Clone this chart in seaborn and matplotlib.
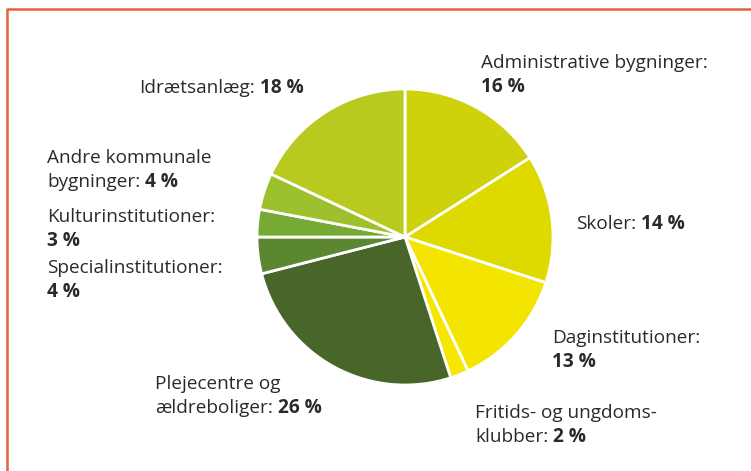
import matplotlib.pyplot as plt
import seaborn as sns

sns.set_theme(style="white")
plt.rcParams['font.family'] = ['Open Sans', 'DejaVu Sans']

# Data (clockwise from 12 o'clock)
categories = ["Administrative bygninger", "Skoler", "Daginstitutioner",
              "Fritids- og ungdomsklubber", "Plejecentre og ældreboliger",
              "Specialinstitutioner", "Kulturinstitutioner",
              "Andre kommunale bygninger", "Idrætsanlæg"]
values = [16, 14, 13, 2, 26, 4, 3, 4, 18]
colors = ["#CDD20B", "#DEDA00", "#F4E500", "#F6E600", "#48662A",
          "#5B8730", "#77A935", "#9DC02D", "#B8CA1F"]

# label text per category, "{}" marks where the bold value goes
label_tpl = ["Administrative bygninger:\n{}", "Skoler: {}", "Daginstitutioner:\n{}",
             "Fritids- og ungdoms-\nklubber: {}", "Plejecentre og\nældreboliger: {}",
             "Specialinstitutioner:\n{}", "Kulturinstitutioner:\n{}",
             "Andre kommunale\nbygninger: {}", "Idrætsanlæg: {}"]
# left x and first baseline y (pixels from top)
label_pos = [(481, 68), (576, 229), (552, 343), (475, 418), (155, 389),
             (47, 273), (47, 222), (47, 163), (139, 93)]

W, H = 751, 471
fig = plt.figure(figsize=(W / 100, H / 100), dpi=100)
ax = fig.add_axes([0, 0, 1, 1])
ax.set_xlim(0, W)
ax.set_ylim(0, H)
ax.axis('off')

ax.pie(values, colors=colors, startangle=90, counterclock=False,
       center=(405, H - 237), radius=148,
       wedgeprops=dict(edgecolor='white', linewidth=2))
ax.set_xlim(0, W)
ax.set_ylim(0, H)

# frame on left and top
ax.plot([7, 7, W], [0, H - 9, H - 9], color="#E4603F", lw=1.8, solid_capstyle='butt')

txt_color = "#2B2A29"
fs = 13.7
line_h = 24
renderer = fig.canvas.get_renderer()
for tpl, v, (x, y) in zip(label_tpl, values, label_pos):
    for i, line in enumerate(tpl.split("\n")):
        yy = H - (y + i * line_h)
        if "{}" in line:
            prefix = line.replace("{}", "").rstrip()
            gap = 0
            if prefix:
                t = ax.text(x, yy, prefix, fontsize=fs, color=txt_color, va='baseline', ha='left')
                gap = t.get_window_extent(renderer).width + 5
            ax.text(x + gap, yy, f"{v} %", fontsize=fs, color=txt_color,
                    va='baseline', ha='left', fontweight='bold')
        else:
            ax.text(x, yy, line, fontsize=fs, color=txt_color, va='baseline', ha='left')

fig.savefig("out.png", dpi=100)
